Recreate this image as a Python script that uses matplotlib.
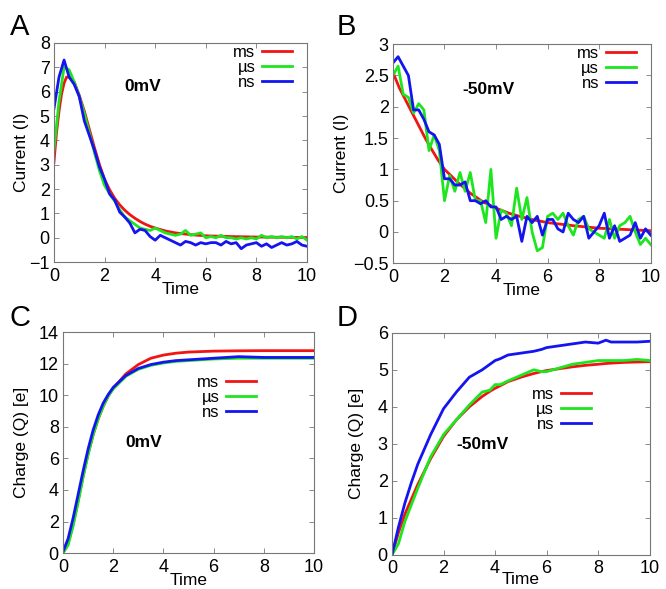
import numpy as np
import matplotlib
matplotlib.use("Agg")
import matplotlib.pyplot as plt

plt.rcParams['font.family'] = ['Liberation Sans', 'DejaVu Sans']
plt.rcParams['font.size'] = 12

labels = ['ms', 'µs', 'ns']
colors = ['#f01414', '#1ee61e', '#1414f0']

# --- panel A: current at 0mV ---
t_a_ms = [0, 0.1, 0.2, 0.3, 0.4, 0.5, 0.6, 0.8, 1.0, 1.2, 1.4, 1.6, 1.8, 2.0, 2.2, 2.4,
          2.6, 2.8, 3.0, 3.2, 3.4, 3.6, 3.8, 4.0, 4.4, 4.8, 5.2, 5.6, 6, 7, 8, 9, 10]
a_ms = [3.1, 4.3, 5.2, 5.9, 6.35, 6.6, 6.6, 6.4, 5.85, 5.2, 4.45, 3.7, 3.0, 2.4, 1.97,
        1.62, 1.35, 1.13, 0.95, 0.8, 0.67, 0.56, 0.47, 0.4, 0.28, 0.2, 0.15, 0.11, 0.08,
        0.05, 0.03, 0.02, 0.01]
t_noisy = np.linspace(0, 10, 51)
a_us = [3.6, 5.6, 7.0, 6.9, 6.4, 5.8, 5.1, 4.3, 3.5, 2.75, 2.15, 1.8, 1.5, 1.15, 0.85, 0.7,
        0.55, 0.4, 0.35, 0.3, 0.4, 0.3, 0.2, 0.15, 0.1, 0.15, 0.3, 0.1, 0.15, 0.2, 0.0,
        0.05, 0.0, 0.1, 0.0, 0.0, -0.05, 0.0, -0.05, 0.0, -0.05, 0.1, 0.0, 0.05, 0.0,
        0.05, 0.0, 0.05, -0.05, 0.05, -0.1]
a_ns = [5.3, 6.6, 7.3, 6.6, 6.3, 5.8, 4.8, 4.2, 3.6, 2.9, 2.4, 1.8, 1.55, 1.05, 0.85, 0.6,
        0.2, 0.35, 0.3, 0.05, -0.1, 0.1, 0.0, -0.1, -0.2, -0.3, -0.15, -0.2, -0.3, -0.2,
        -0.25, -0.2, -0.2, -0.3, -0.15, -0.25, -0.2, -0.45, -0.3, -0.25, -0.2, -0.35,
        -0.25, -0.4, -0.3, -0.2, -0.3, -0.25, -0.15, -0.3, -0.35]

# --- panel B: current at -50mV ---
t_b_ms = [0, 0.25, 0.5, 0.75, 1.0, 1.25, 1.5, 1.75, 2.0, 2.5, 3.0, 3.5, 4.0, 4.5, 5.0,
          5.5, 6.0, 7.0, 8.0, 9.0, 10.0]
b_ms = [2.55, 2.3, 2.1, 1.9, 1.7, 1.5, 1.32, 1.15, 1.0, 0.8, 0.62, 0.48, 0.38, 0.3, 0.24,
        0.19, 0.15, 0.1, 0.06, 0.04, 0.02]
b_us = [2.5, 2.65, 2.2, 2.15, 1.9, 2.05, 1.95, 1.3, 1.55, 1.3, 0.5, 0.9, 0.65, 0.95, 0.65,
        0.95, 0.5, 0.5, 0.15, 1.0, -0.1, 0.35, 0.3, 0.1, 0.7, 0.2, 0.55, 0.0, -0.3, -0.25,
        0.25, 0.3, 0.2, 0.3, 0.1, -0.05, 0.2, 0.25, 0.05, 0.0, -0.05, -0.1, 0.2, -0.1,
        0.1, 0.15, 0.25, 0.0, -0.2, -0.1, -0.2]
b_ns = [2.7, 2.8, 2.65, 2.5, 1.95, 1.95, 1.8, 1.6, 1.55, 1.4, 0.85, 0.85, 0.75, 0.75, 0.8,
        0.5, 0.5, 0.45, 0.5, 0.4, 0.4, 0.2, 0.25, 0.2, 0.25, -0.15, 0.25, 0.15, 0.25,
        -0.05, 0.2, 0.2, 0.05, 0.0, 0.3, 0.2, 0.15, 0.25, -0.1, 0.0, 0.1, 0.3, -0.1, 0.1,
        -0.15, -0.1, -0.05, 0.15, -0.1, 0.05, -0.05]

# --- panel C: charge at 0mV ---
t_c = [0, 0.2, 0.4, 0.6, 0.8, 1.0, 1.2, 1.4, 1.6, 1.8, 2.0, 2.5, 3.0, 3.5, 4.0, 4.5, 5.0,
       6.0, 7.0, 8.0, 9.0, 10.0]
c_ms = [0.0, 0.6, 1.8, 3.3, 4.9, 6.3, 7.5, 8.5, 9.3, 9.95, 10.45, 11.35, 11.95, 12.35,
        12.55, 12.67, 12.74, 12.8, 12.82, 12.83, 12.83, 12.83]
c_us = [0.0, 0.5, 1.7, 3.2, 4.8, 6.25, 7.5, 8.5, 9.3, 9.95, 10.4, 11.2, 11.65, 11.9,
        12.05, 12.15, 12.2, 12.3, 12.35, 12.35, 12.35, 12.35]
c_ns = [0.1, 0.9, 2.2, 3.7, 5.2, 6.6, 7.8, 8.75, 9.5, 10.05, 10.5, 11.25, 11.7, 11.95,
        12.1, 12.2, 12.25, 12.35, 12.45, 12.4, 12.4, 12.4]

# --- panel D: charge at -50mV ---
t_d = [0, 0.25, 0.5, 0.75, 1.0, 1.5, 2.0, 2.5, 3.0, 3.5, 3.8, 4.0, 4.2, 4.5, 5.0, 5.5,
       5.8, 6.0, 6.5, 7.0, 7.5, 8.0, 8.3, 8.5, 9.0, 9.5, 10.0]
d_ms = [0.0, 0.6, 1.1, 1.5, 1.9, 2.6, 3.2, 3.65, 4.0, 4.28, 4.42, 4.5, 4.57, 4.68, 4.8,
        4.9, 4.95, 4.98, 5.03, 5.08, 5.12, 5.15, 5.17, 5.18, 5.2, 5.21, 5.22]
d_us = [0.0, 0.3, 0.9, 1.35, 1.8, 2.65, 3.25, 3.65, 4.05, 4.4, 4.45, 4.6, 4.6, 4.7, 4.85,
        5.0, 4.95, 4.95, 5.05, 5.15, 5.2, 5.25, 5.25, 5.25, 5.25, 5.28, 5.25]
d_ns = [0.0, 0.75, 1.4, 1.95, 2.45, 3.25, 3.95, 4.4, 4.8, 5.0, 5.15, 5.25, 5.3, 5.4,
        5.45, 5.5, 5.55, 5.6, 5.65, 5.7, 5.75, 5.72, 5.8, 5.75, 5.75, 5.75, 5.77]

fig = plt.figure(figsize=(6.66, 5.89), dpi=100)
axA = fig.add_axes([0.081, 0.555, 0.380, 0.372])
axB = fig.add_axes([0.590, 0.553, 0.387, 0.372])
axC = fig.add_axes([0.0946, 0.061, 0.377, 0.375])
axD = fig.add_axes([0.5886, 0.058, 0.387, 0.377])

lw = 2.0
axA.plot(t_a_ms, a_ms, color=colors[0], lw=lw, label=labels[0])
axA.plot(t_noisy, a_us, color=colors[1], lw=lw, label=labels[1])
axA.plot(t_noisy, a_ns, color=colors[2], lw=lw, label=labels[2])

axB.plot(t_b_ms, b_ms, color=colors[0], lw=lw, label=labels[0])
axB.plot(t_noisy, b_us, color=colors[1], lw=lw, label=labels[1])
axB.plot(t_noisy, b_ns, color=colors[2], lw=lw, label=labels[2])

axC.plot(t_c, c_ms, color=colors[0], lw=lw, label=labels[0])
axC.plot(t_c, c_us, color=colors[1], lw=lw, label=labels[1])
axC.plot(t_c, c_ns, color=colors[2], lw=lw, label=labels[2])

axD.plot(t_d, d_ms, color=colors[0], lw=lw, label=labels[0])
axD.plot(t_d, d_us, color=colors[1], lw=lw, label=labels[1])
axD.plot(t_d, d_ns, color=colors[2], lw=lw, label=labels[2])

axA.set_ylim(-1, 8)
axA.set_yticks(range(-1, 9))
axB.set_ylim(-0.5, 3)
axB.set_yticks([-0.5, 0, 0.5, 1, 1.5, 2, 2.5, 3])
axB.set_yticklabels(['\u22120.5', '0', '0.5', '1', '1.5', '2', '2.5', '3'])
axC.set_ylim(0, 14)
axC.set_yticks(range(0, 15, 2))
axD.set_ylim(0, 6)
axD.set_yticks(range(0, 7))

for ax in [axA, axB, axC, axD]:
    ax.set_xlim(0, 10)
    ax.set_xticks(range(0, 11, 2))
    ax.set_xlabel('Time', fontsize=12.5, labelpad=-2)
    ax.tick_params(direction='in', top=True, right=True, length=3.5, width=0.6,
                   color='#777777', labelsize=13)
    ax.tick_params(axis='x', pad=4)
    ax.tick_params(axis='y', pad=3)
    for s in ax.spines.values():
        s.set_color('#777777')
        s.set_linewidth(0.8)
axD.xaxis.labelpad = -4

axA.set_ylabel('Current (I)', fontsize=12.5, labelpad=0)
axB.set_ylabel('Current (I)', fontsize=12.5, labelpad=3)
axC.set_ylabel('Charge (Q) [e]', fontsize=12.5, labelpad=7)
axD.set_ylabel('Charge (Q) [e]', fontsize=12.5, labelpad=10)

# gnuplot-style key: label first, sample line after it, rows packed tight
leg_kw = dict(frameon=False, markerfirst=False, fontsize=12, labelspacing=0.0,
              handlelength=1.8, handletextpad=0.4, borderpad=0.0, borderaxespad=0.1)
axA.legend(loc='upper right', bbox_to_anchor=(0.947, 1.0), **leg_kw)
axB.legend(loc='upper right', bbox_to_anchor=(0.948, 1.0), **leg_kw)
axC.legend(loc='upper right', bbox_to_anchor=(0.775, 0.815), **leg_kw)
axD.legend(loc='upper right', bbox_to_anchor=(0.777, 0.765), **leg_kw)

axA.text(2.8, 6.2, '0mV', fontweight='bold', fontsize=12.5, va='center')
axB.text(2.7, 2.28, '-50mV', fontweight='bold', fontsize=12.5, va='center')
axC.text(2.5, 7.0, '0mV', fontweight='bold', fontsize=12.5, va='center')
axD.text(2.5, 2.97, '-50mV', fontweight='bold', fontsize=12.5, va='center')

for letter, (x, y) in zip('ABCD', [(0.015, 0.94), (0.505, 0.94), (0.015, 0.447),
                                   (0.505, 0.447)]):
    fig.text(x, y, letter, fontsize=21)

fig.savefig('out.png', dpi=100)
